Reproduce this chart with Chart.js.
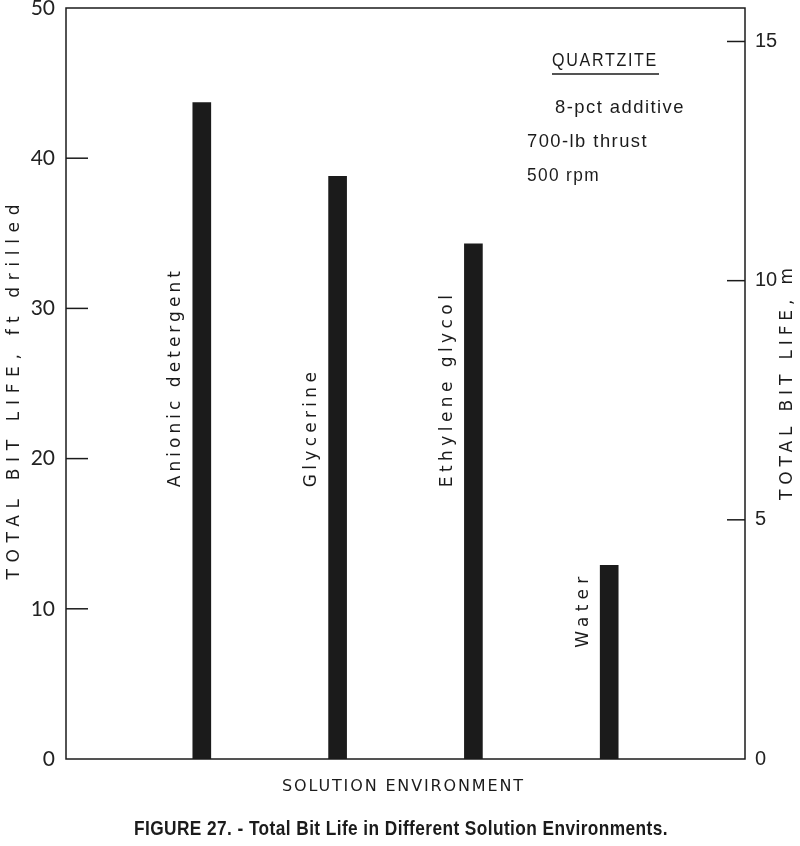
<!DOCTYPE html>
<html>
<head>
<meta charset="utf-8">
<script src="https://cdn.jsdelivr.net/npm/chart.js@4"></script>
<style>
  html, body { margin: 0; padding: 0; background: #fff; }
  #wrap { width: 800px; height: 846px; }
</style>
</head>
<body>
<div id="wrap"><canvas id="bitLife" width="800" height="846"></canvas></div>
<script>
// data
const environments = ['Anionic detergent', 'Glycerine', 'Ethylene glycol', 'Water'];
const slots = [1, 2, 3, 4];
const bitLifeFt = [43.7, 38.8, 34.3, 12.9];
const leftTicks = [0, 10, 20, 30, 40, 50];
const rightTicks = [0, 5, 10, 15];
const notes = ['8-pct additive', '700-lb thrust', '500 rpm'];

const ink = '#1b1b1b';
const labelFont = '"DejaVu Sans", sans-serif';
const plainFont = '"Liberation Sans", Arial, sans-serif';

// letter-spaced text stretched to a given length, left aligned at (x, y)
function spacedText(ctx, text, x, y, length, rotate) {
    ctx.save();
    ctx.letterSpacing = '0px';
    const natural = ctx.measureText(text).width;
    const gap = (length - natural) / (text.length - 1);
    ctx.translate(x, y);
    if (rotate) ctx.rotate(-Math.PI / 2);
    ctx.letterSpacing = gap + 'px';
    ctx.fillText(text, 0, 0);
    ctx.restore();
}

// squeeze text horizontally so it takes the given width (old condensed type)
function narrowText(ctx, text, x, y, width, spacing) {
    ctx.save();
    ctx.letterSpacing = (spacing || 0) + 'px';
    const w = ctx.measureText(text).width;
    ctx.translate(x, y);
    ctx.scale(width / w, 1);
    ctx.fillText(text, 0, 0);
    ctx.restore();
}

const decorations = {
    id: 'decorations',
    afterDraw(chart) {
        const { ctx, chartArea: a, scales } = chart;
        const x = scales.x, y = scales.y, y2 = scales.y2;
        ctx.save();
        ctx.strokeStyle = ink;
        ctx.lineWidth = 1.5;
        ctx.strokeRect(a.left, a.top, a.right - a.left, a.bottom - a.top);

        // inward ticks
        leftTicks.slice(1, -1).forEach(v => {
            const py = y.getPixelForValue(v);
            ctx.beginPath(); ctx.moveTo(a.left, py); ctx.lineTo(a.left + 22, py); ctx.stroke();
        });
        rightTicks.slice(1).forEach(v => {
            const py = y2.getPixelForValue(v);
            ctx.beginPath(); ctx.moveTo(a.right, py); ctx.lineTo(a.right - 18, py); ctx.stroke();
        });

        ctx.fillStyle = ink;
        ctx.textAlign = 'left';
        ctx.textBaseline = 'middle';

        // labels beside bars
        ctx.font = '17px ' + labelFont;
        const labelStart = [18.1, 18.1, 18.1, 7.4];
        const labelLength = [216, 115, 192, 71];
        environments.forEach((name, i) => {
            const px = x.getPixelForValue(slots[i]) - 26;
            const py = y.getPixelForValue(labelStart[i]);
            spacedText(ctx, name, px, py, labelLength[i], true);
        });

        // axis titles
        ctx.font = '17px ' + labelFont;
        spacedText(ctx, 'TOTAL BIT LIFE, ft drilled', 15, 392 + 375 / 2, 375, true);
        spacedText(ctx, 'TOTAL BIT LIFE, m', 788, 384 + 232 / 2, 232, true);
        ctx.font = '16px ' + labelFont;
        spacedText(ctx, 'SOLUTION ENVIRONMENT', 282, 787, 241, false);

        // caption
        ctx.font = 'bold 21px ' + plainFont;
        narrowText(ctx, 'FIGURE 27. - Total Bit Life in Different Solution Environments.', 134, 829, 534, 0.5);

        // notes block
        ctx.font = '19px ' + plainFont;
        narrowText(ctx, 'QUARTZITE', 552, 61, 106, 2);
        ctx.beginPath(); ctx.moveTo(552, 74); ctx.lineTo(659, 74); ctx.stroke();
        narrowText(ctx, notes[0], 555, 108, 130, 1.5);
        narrowText(ctx, notes[1], 527, 142, 121, 1.5);
        narrowText(ctx, notes[2], 527, 176, 73, 1.5);
        ctx.restore();
    }
};

new Chart(document.getElementById('bitLife'), {
    type: 'bar',
    data: {
        datasets: [{
            data: slots.map((s, i) => ({ x: s, y: bitLifeFt[i] })),
            backgroundColor: ink,
            barThickness: 18,
            borderWidth: 0,
        }],
    },
    options: {
        responsive: false,
        animation: false,
        layout: { padding: { top: 8, right: 0, bottom: 0, left: 0 } },
        plugins: {
            legend: { display: false },
            tooltip: { enabled: false },
        },
        scales: {
            x: {
                type: 'linear',
                offset: false,
                min: 0,
                max: 5,
                grid: { display: false, drawTicks: false },
                border: { display: false },
                ticks: { display: false },
                afterFit(s) { s.height = 87; s.paddingLeft = 0; s.paddingRight = 0; },
            },
            y: {
                position: 'left',
                min: 0,
                max: 50,
                afterBuildTicks(s) { s.ticks = leftTicks.map(v => ({ value: v })); },
                grid: { display: false, drawTicks: false },
                border: { display: false },
                ticks: {
                    padding: 11,
                    color: '#222',
                    font: { family: 'Lato, "DejaVu Sans", sans-serif', size: 21 },
                },
                afterFit(s) { s.width = 66; s.paddingTop = 0; s.paddingBottom = 0; },
            },
            y2: {
                position: 'right',
                min: 0,
                max: 15.7,
                afterBuildTicks(s) { s.ticks = rightTicks.map(v => ({ value: v })); },
                grid: { display: false, drawTicks: false },
                border: { display: false },
                ticks: {
                    padding: 10,
                    color: '#222',
                    font: { family: plainFont, size: 20 },
                },
                afterFit(s) { s.width = 55; s.paddingTop = 0; s.paddingBottom = 0; },
            },
        },
    },
    plugins: [decorations],
});
</script>
</body>
</html>
